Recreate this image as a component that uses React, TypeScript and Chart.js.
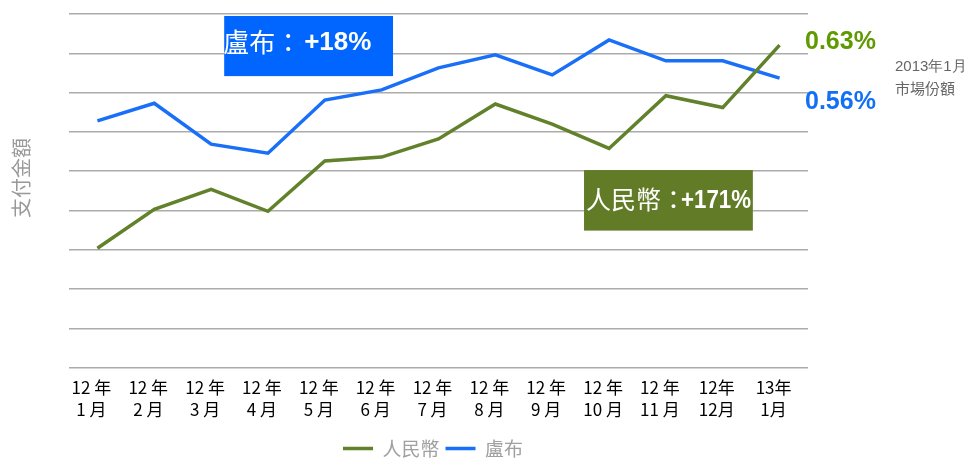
import React, { useEffect, useRef } from "react";
import { Chart, registerables } from "chart.js";

Chart.register(...registerables);

const categories: string[][] = [
  ["12 年", "1 月"], ["12 年", "2 月"], ["12 年", "3 月"], ["12 年", "4 月"],
  ["12 年", "5 月"], ["12 年", "6 月"], ["12 年", "7 月"], ["12 年", "8 月"],
  ["12 年", "9 月"], ["12 年", "10 月"], ["12 年", "11 月"], ["12年", "12月"],
  ["13年", "1月"],
];
const rmbValues = [3.04, 4.03, 4.54, 3.98, 5.26, 5.36, 5.82, 6.71, 6.2, 5.58, 6.92, 6.62, 8.21];
const rubleValues = [6.28, 6.73, 5.69, 5.46, 6.81, 7.07, 7.63, 7.96, 7.45, 8.34, 7.81, 7.81, 7.37];
const seriesNames = ["人民幣", "盧布"];
const GREEN = "#62812b";
const BLUE = "#1a6ff8";
const CJK = "'Noto Sans CJK TC', 'Noto Sans CJK SC', sans-serif";
const LAT = "'Liberation Sans', Arial, sans-serif";

const annotations = {
  id: "annotations",
  afterLayout(chart: any) {
    const lg = chart.legend;
    if (lg) {
      const dx = 433 - (lg.left + lg.right) / 2;
      lg.left += dx;
      lg.right += dx;
      lg.top += 11;
      lg.bottom += 11;
    }
  },
  afterDraw(chart: any) {
    const { ctx, chartArea, scales } = chart;
    const x = scales.x;
    const y = scales.y;
    ctx.save();
    const drawMixed = (left: number, numLeft: number, cy: number, cjk: string, num: string, cjkSize: number, maxW?: number) => {
      ctx.textBaseline = "middle";
      ctx.textAlign = "left";
      ctx.fillStyle = "#ffffff";
      ctx.font = `${cjkSize}px ${CJK}`;
      ctx.fillText(cjk, left, cy);
      ctx.font = `bold 26px ${LAT}`;
      if (maxW) ctx.fillText(num, numLeft, cy + 1, maxW);
      else ctx.fillText(num, numLeft, cy + 1);
    };
    // blue box
    const bx1 = x.getPixelForValue(2.23), bx2 = x.getPixelForValue(5.2);
    const by1 = y.getPixelForValue(8.95), by2 = y.getPixelForValue(7.42);
    ctx.fillStyle = "#0066ff";
    ctx.fillRect(bx1, by1, bx2 - bx1, by2 - by1);
    drawMixed(bx1 - 1, bx1 + 80, (by1 + by2) / 2 - 4, "盧布：", "+18%", 26);
    // green box
    const gx1 = x.getPixelForValue(8.56), gx2 = x.getPixelForValue(11.53);
    const gy1 = y.getPixelForValue(5.03), gy2 = y.getPixelForValue(3.49);
    ctx.fillStyle = "#617b27";
    ctx.fillRect(gx1, gy1, gx2 - gx1, gy2 - gy1);
    drawMixed(gx1 + 2, gx1 + 97, (gy1 + gy2) / 2 - 1, "人民幣：", "+171%", 25, 70);
    // right side labels
    const r = chartArea.right;
    ctx.textAlign = "left";
    ctx.textBaseline = "middle";
    ctx.font = `bold 25px ${LAT}`;
    ctx.fillStyle = "#5e9a00";
    ctx.fillText("0.63%", r - 3, 42);
    ctx.fillStyle = "#1170f5";
    ctx.fillText("0.56%", r - 3, 102);
    ctx.font = `15px ${LAT}`;
    ctx.fillStyle = "#666666";
    ctx.fillText("2013年1月", r + 87, 67);
    ctx.font = `15px ${CJK}`;
    ctx.fillText("市場份額", r + 87, 88);
    // y title
    ctx.translate(21, 178);
    ctx.rotate(-Math.PI / 2);
    ctx.textAlign = "center";
    ctx.font = `20px ${CJK}`;
    ctx.fillStyle = "#999999";
    ctx.fillText("支付金額", 0, 0);
    ctx.restore();
  },
};

export default function App() {
  const ref = useRef<HTMLCanvasElement>(null);
  useEffect(() => {
    if (!ref.current) return;
    const chart = new Chart(ref.current, {
      type: "line",
      data: {
        labels: categories,
        datasets: [
          {
            label: seriesNames[0],
            data: rmbValues,
            borderColor: GREEN,
            backgroundColor: GREEN,
            borderWidth: 3.5,
            pointRadius: 0,
            tension: 0,
          },
          {
            label: seriesNames[1],
            data: rubleValues,
            borderColor: BLUE,
            backgroundColor: BLUE,
            borderWidth: 3.5,
            pointRadius: 0,
            tension: 0,
          },
        ],
      },
      options: {
        responsive: false,
        animation: false,
        devicePixelRatio: 1,
        layout: { padding: { left: 69, right: 171, top: 14, bottom: 1 } },
        plugins: {
          tooltip: { enabled: false },
          legend: {
            position: "bottom",
            align: "center",
            labels: {
              usePointStyle: true,
              pointStyle: "line",
              pointStyleWidth: 30,
              boxHeight: 19,
              padding: 6,
              color: "#a0a0a0",
              font: { family: CJK, size: 19 },
            },
          },
        },
        scales: {
          x: {
            offset: true,
            grid: { display: false },
            border: { display: false },
            ticks: {
              autoSkip: false,
              maxRotation: 0,
              minRotation: 0,
              padding: 1,
              labelOffset: -6,
              color: "#000000",
              font: { family: CJK, size: 17, lineHeight: 1.3 },
            },
          },
          y: {
            min: 0,
            max: 9,
            border: { display: false },
            grid: { color: "#ababab", lineWidth: 1.5, drawTicks: false },
            ticks: { display: false, stepSize: 1 },
          },
        },
      },
      plugins: [annotations],
    } as any);
    return () => chart.destroy();
  }, []);
  return (
    <div style={{ position: "absolute", left: 0, top: 0, width: 979, height: 458 }}>
      <canvas ref={ref} width={979} height={458} />
    </div>
  );
}
